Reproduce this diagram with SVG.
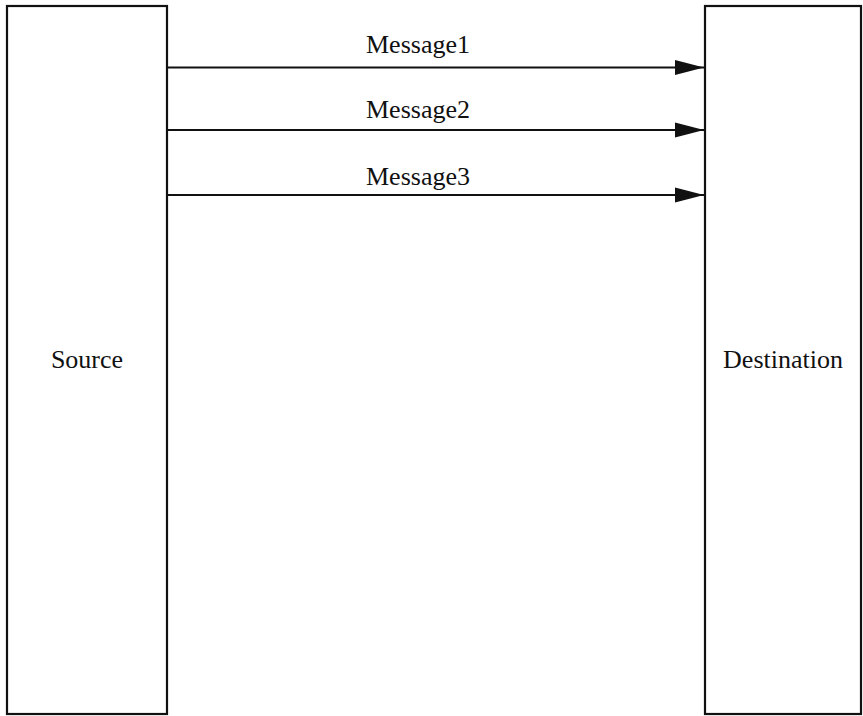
<svg xmlns="http://www.w3.org/2000/svg" width="863" height="716" viewBox="0 0 863 716">
<style>
.box{fill:#fff;stroke:#111;stroke-width:2.2}
.conn{stroke:#111;stroke-width:2.2;fill:none}
text{font-family:"Liberation Serif","Times New Roman",serif;font-size:26px;fill:#111}
</style>
<defs>
<marker id="ah" markerUnits="userSpaceOnUse" markerWidth="30" markerHeight="16" refX="29" refY="8" orient="auto">
<path d="M0,0.5 L29,8 L0,15.5 Z" fill="#111"/>
</marker>
</defs>
<rect width="863" height="716" fill="#fff"/>
<g id="source">
<rect class="box" x="7" y="6" width="160" height="708"/>
<text x="87" y="368" text-anchor="middle">Source</text>
</g>
<g id="destination">
<rect class="box" x="705" y="6" width="156" height="708"/>
<text x="783" y="368" text-anchor="middle">Destination</text>
</g>
<g id="connectors">
<line class="conn" x1="167" y1="67.5" x2="704" y2="67.5" marker-end="url(#ah)"/>
<line class="conn" x1="167" y1="130" x2="704" y2="130" marker-end="url(#ah)"/>
<line class="conn" x1="167" y1="195" x2="704" y2="195" marker-end="url(#ah)"/>
<text x="418" y="53" text-anchor="middle">Message1</text>
<text x="418" y="118" text-anchor="middle">Message2</text>
<text x="418" y="185" text-anchor="middle">Message3</text>
</g>
</svg>
